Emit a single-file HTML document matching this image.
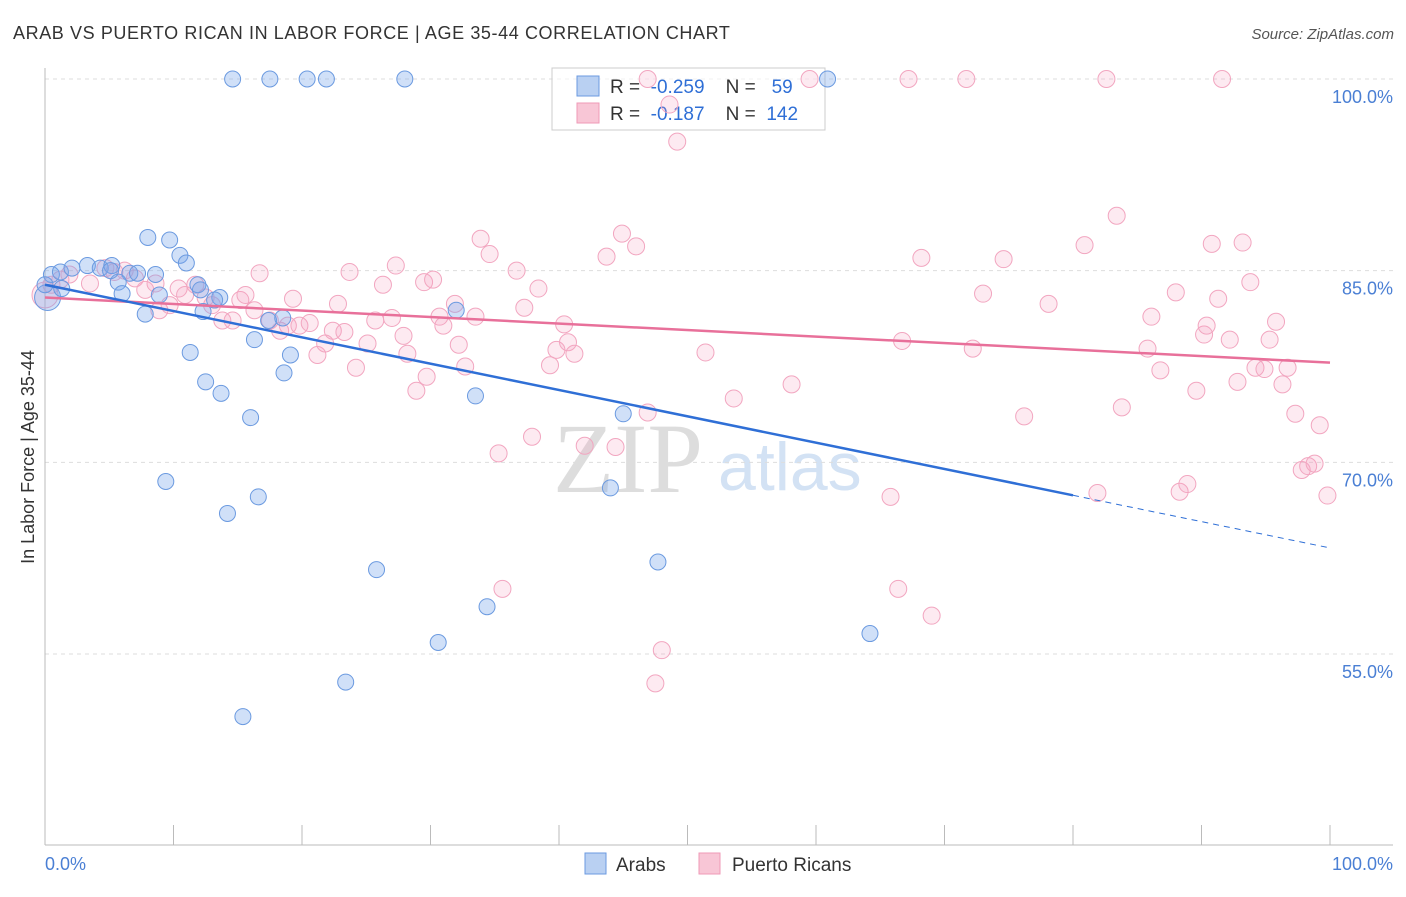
<!DOCTYPE html>
<html><head><meta charset="utf-8"><style>
body{margin:0;background:#fff;font-family:"Liberation Sans",sans-serif;}
svg text{font-family:"Liberation Sans",sans-serif;}
</style></head><body>
<svg id="chart" width="1406" height="892" viewBox="0 0 1406 892" xmlns="http://www.w3.org/2000/svg">
<text x="13" y="39" font-size="18" fill="#333" letter-spacing="0.6">ARAB VS PUERTO RICAN IN LABOR FORCE | AGE 35-44 CORRELATION CHART</text>
<text x="1394" y="39" font-size="15" fill="#555" text-anchor="end" font-style="italic">Source: ZipAtlas.com</text>
<g>
<text x="553" y="492" font-size="100" fill="#ddd" style="font-family:'Liberation Serif',serif">ZIP</text>
<text x="718" y="490" font-size="68" fill="#d3e2f4">atlas</text>
</g>
<g id="grid"></g>
<g id="axes"></g>
<g>
<rect x="552" y="68" width="273" height="62" fill="rgba(255,255,255,0.6)" stroke="#ccc"/>
<rect x="577" y="76" width="22" height="20" fill="#b9d0f2" stroke="#6b9ae0"/>
<rect x="577" y="103" width="22" height="20" fill="#f8c6d6" stroke="#ef9ab7"/>
<text x="610" y="93" font-size="19" fill="#333" xml:space="preserve">R =  <tspan fill="#2f6fd6">-0.259</tspan>    N =   <tspan fill="#2f6fd6">59</tspan></text>
<text x="610" y="120" font-size="19" fill="#333" xml:space="preserve">R =  <tspan fill="#2f6fd6">-0.187</tspan>    N =  <tspan fill="#2f6fd6">142</tspan></text>
</g>
<g id="pts"></g>
<g id="trends"></g>
<text transform="translate(34,457) rotate(-90)" font-size="18" fill="#333" text-anchor="middle">In Labor Force | Age 35-44</text>
<text x="45" y="870" font-size="18" fill="#4a7fd4">0.0%</text>
<text x="1393" y="870" font-size="18" fill="#4a7fd4" text-anchor="end">100.0%</text>
<g>
<rect x="585" y="853" width="21" height="21" fill="#b9d0f2" stroke="#6b9ae0"/>
<text x="616" y="871" font-size="19" fill="#333">Arabs</text>
<rect x="699" y="853" width="21" height="21" fill="#f8c6d6" stroke="#ef9ab7"/>
<text x="732" y="871" font-size="19" fill="#333">Puerto Ricans</text>
</g>
</svg>
<script>
const yTicks=[100,85,70,55];
const yTickLabels=["100.0%","85.0%","70.0%","55.0%"];
const xTicks=[0,10,20,30,40,50,60,70,80,90,100];
const arabX=[14.6,17.5,20.4,21.9,28.0,60.9,0.2,0.5,1.2,2.1,3.3,4.3,5.2,6.6,7.2,8.6,5.7,6.0,7.8,8.9,8.0,9.7,10.5,11.0,11.9,12.3,13.6,11.3,12.5,13.7,16.3,16.0,17.4,18.5,19.1,18.6,9.4,14.2,16.6,25.8,23.4,15.4,30.6,34.4,33.5,32.0,45.0,44.0,47.7,64.2,0,1.3,5.1,12.1,13.2];
const arabY=[100,100,100,100,100,100,82.9,84.7,84.9,85.2,85.4,85.2,85.4,84.8,84.8,84.7,84.1,83.2,81.6,83.1,87.6,87.4,86.2,85.6,83.9,81.8,82.9,78.6,76.3,75.4,79.6,73.5,81.1,81.3,78.4,77.0,68.5,66.0,67.3,61.6,52.8,50.1,55.9,58.7,75.2,81.9,73.8,68.0,62.2,56.6,83.9,83.6,85.0,83.5,82.7];
const prX=[0.5,1.2,1.9,3.5,4.7,5.4,6.2,7.0,7.8,8.6,8.9,9.7,10.4,10.9,11.7,12.5,13.0,13.8,14.6,15.2,15.6,16.3,16.7,17.5,18.3,18.9,19.3,19.8,20.6,21.2,21.8,22.4,22.8,23.3,23.7,24.2,25.1,25.7,26.3,27.0,27.3,27.9,28.2,28.9,29.5,29.7,30.2,30.7,31.0,31.9,32.2,32.7,33.5,33.9,34.6,35.3,35.6,36.7,37.3,37.9,38.4,39.3,39.8,40.4,40.7,41.2,42.0,43.7,44.4,44.9,46.0,46.9,47.5,48.0,48.6,49.2,51.4,53.6,58.1,59.5,65.8,66.4,66.7,67.2,68.2,69.0,71.7,72.2,73.0,74.6,76.2,78.1,80.9,81.9,82.6,83.4,83.8,85.8,86.1,86.8,88.0,88.3,88.9,89.6,90.2,90.4,90.8,91.3,91.6,92.2,92.8,93.2,93.8,94.2,94.9,95.3,95.8,96.3,96.7,97.3,97.8,98.3,98.8,99.2,99.8,46.9,0];
const prY=[83.9,84.3,84.7,84.0,85.2,84.9,85.0,84.4,83.5,84.0,81.9,82.3,83.6,83.1,83.9,82.9,82.3,81.1,81.1,82.7,83.1,81.9,84.8,81.1,80.3,80.7,82.8,80.7,80.9,78.4,79.3,80.3,82.4,80.2,84.9,77.4,79.3,81.1,83.9,81.3,85.4,79.9,78.5,75.6,84.1,76.7,84.3,81.4,80.7,82.4,79.2,77.5,81.4,87.5,86.3,70.7,60.1,85.0,82.1,72.0,83.6,77.6,78.8,80.8,79.4,78.5,71.3,86.1,71.2,87.9,86.9,73.9,52.7,55.3,98.0,95.1,78.6,75.0,76.1,100,67.3,60.1,79.5,100,86.0,58.0,100,78.9,83.2,85.9,73.6,82.4,87.0,67.6,100,89.3,74.3,78.9,81.4,77.2,83.3,67.7,68.3,75.6,80.0,80.7,87.1,82.8,100,79.6,76.3,87.2,84.1,77.4,77.3,79.6,81.0,76.1,77.4,73.8,69.4,69.7,69.9,72.9,67.4,100,83.1];
const arabTrend=[83.9,63.3];
const prTrend=[82.9,77.8];
const arabSolidEnd=80;

const NS="http://www.w3.org/2000/svg";
const X0=45,X1=1330,YT=79,YB=654;
const sx=v=>X0+(X1-X0)*v/100;
const sy=v=>YT+(100-v)*(YB-YT)/45;
function mk(tag,attrs,parent){const e=document.createElementNS(NS,tag);for(const k in attrs)e.setAttribute(k,attrs[k]);document.getElementById(parent).appendChild(e);return e;}

yTicks.forEach((t,i)=>{
  const l=mk('line',{x1:45,x2:1393,y1:sy(t),y2:sy(t),stroke:'#ddd','stroke-dasharray':'4,4'},'grid');
  
  
  const tx=mk('text',{x:1393,y:sy(t)+24,'font-size':18,fill:'#4a7fd4','text-anchor':'end'},'grid');
  tx.textContent=yTickLabels[i];
  
  
});
let a=mk('line',{x1:45,x2:45,y1:68,y2:845,stroke:'#bbb'},'axes');


a=mk('line',{x1:45,x2:1393,y1:845,y2:845,stroke:'#bbb'},'axes');


xTicks.forEach(t=>{
  const l=mk('line',{x1:sx(t),x2:sx(t),y1:825,y2:845,stroke:'#bbb'},'axes');
  
  
});
prX.forEach((x,i)=>{
  const big=i===prX.length-1;
  const c=mk('circle',{cx:sx(x),cy:sy(prY[i]),r:big?13:8.5,fill:'rgba(244,160,190,0.22)',stroke:'#f2a6c0','stroke-width':1},'pts');
  
  
});
arabX.forEach((x,i)=>{
  const c=mk('circle',{cx:sx(x),cy:sy(arabY[i]),r:i===6?13:8,fill:'rgba(120,165,235,0.35)',stroke:'#6b9ae0','stroke-width':1},'pts');
  
  
});
const ay=x=>arabTrend[0]+(arabTrend[1]-arabTrend[0])*x/100;
let t=mk('line',{x1:sx(0),y1:sy(prTrend[0]),x2:sx(100),y2:sy(prTrend[1]),stroke:'#e8709a','stroke-width':2.5},'trends');


t=mk('line',{x1:sx(0),y1:sy(ay(0)),x2:sx(arabSolidEnd),y2:sy(ay(arabSolidEnd)),stroke:'#2f6fd6','stroke-width':2.5},'trends');


t=mk('line',{x1:sx(arabSolidEnd),y1:sy(ay(arabSolidEnd)),x2:sx(100),y2:sy(ay(100)),stroke:'#2f6fd6','stroke-width':1,'stroke-dasharray':'6,5'},'trends');


</script>
</body></html>
